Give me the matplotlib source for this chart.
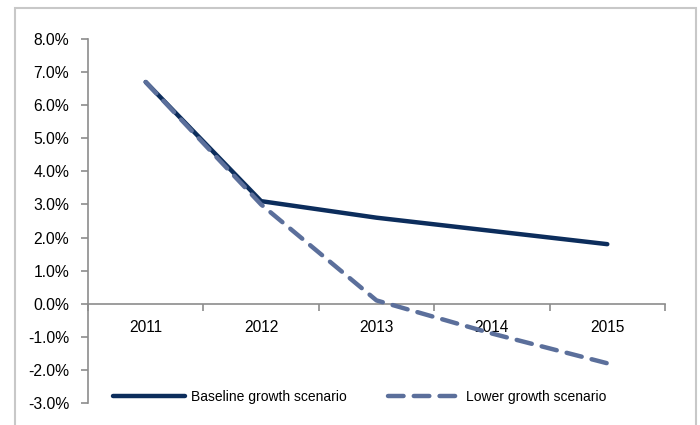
import matplotlib
matplotlib.use("Agg")
import matplotlib.pyplot as plt
from matplotlib.patches import Rectangle
from matplotlib.ticker import FixedLocator, FuncFormatter

plt.rcParams['font.family'] = ['Liberation Sans', 'DejaVu Sans']

years = ["2011", "2012", "2013", "2014", "2015"]
baseline = [6.7, 3.1, 2.6, 2.2, 1.8]
lower = [6.7, 3.0, 0.1, -0.9, -1.8]
yticks = [-3, -2, -1, 0, 1, 2, 3, 4, 5, 6, 7, 8]

c_base = "#0c2d5c"
c_low = "#5b6f9b"
c_axis = "#8c8c8c"

fig = plt.figure(figsize=(7, 4.25), dpi=100)
W, H = 700, 425
ax = fig.add_axes([88 / W, 1 - 403 / H, (665 - 88) / W, (403 - 39) / H])

x = list(range(len(years)))
ax.plot(x, baseline, color=c_base, lw=3.2, solid_capstyle='round',
        label="Baseline growth scenario", zorder=3)
ax.plot(x, lower, color=c_low, lw=3.2, dashes=(3.5, 2.3), dash_capstyle='round',
        label="Lower growth scenario", zorder=4)

ax.set_xlim(-0.5, len(years) - 0.5)
ax.set_ylim(-3, 8)

for s in ['top', 'right']:
    ax.spines[s].set_visible(False)
ax.spines['bottom'].set_position(('data', 0))
ax.spines['bottom'].set_color(c_axis)
ax.spines['left'].set_color(c_axis)
ax.spines['bottom'].set_linewidth(1.2)
ax.spines['left'].set_linewidth(1.2)

ax.yaxis.set_major_locator(FixedLocator(yticks))
ax.yaxis.set_major_formatter(FuncFormatter(lambda v, p: f"{v:.1f}%"))
ax.tick_params(axis='y', direction='out', length=5, width=1.2, color=c_axis,
               labelsize=11.3, pad=8.5, labelcolor='#000000')

ax.xaxis.set_major_locator(FixedLocator([i - 0.5 for i in range(len(years) + 1)]))
ax.xaxis.set_major_formatter(FuncFormatter(lambda v, p: ""))
ax.xaxis.set_minor_locator(FixedLocator(x))
ax.set_xticklabels(years, minor=True)
ax.tick_params(axis='x', which='major', direction='out', length=5, width=1.2, color=c_axis)
ax.tick_params(axis='x', which='minor', length=0, labelsize=11.2, pad=12)

fig.legend(loc='center left', bbox_to_anchor=(113 / W, 1 - 397 / H), ncol=2,
           frameon=False, fontsize=10, handlelength=5.2, handletextpad=0.45,
           columnspacing=2.9, borderpad=0, borderaxespad=0)

fig.patches.append(Rectangle((15 / W, -0.1), (696 - 15) / W, 1.1 - 8 / H,
                             transform=fig.transFigure, fill=False,
                             edgecolor='#c8c8c8', lw=1.5))

fig.savefig("out.png", dpi=100)
